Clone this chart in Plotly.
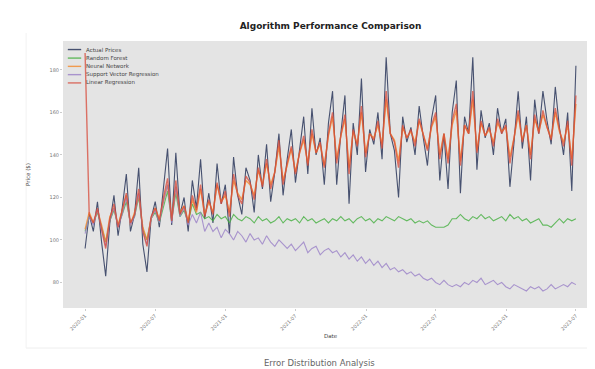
import pandas as pd
import plotly.graph_objects as go

start_date = "2020-01-01"
end_date = "2023-07-01"
n_points = 120
tick_dates = ["2020-01-01", "2020-07-01", "2021-01-01", "2021-07-01",
              "2022-01-01", "2022-07-01", "2023-01-01", "2023-07-01"]
y_ticks = [80, 100, 120, 140, 160, 180]

actual = [96, 112, 104, 118, 99, 83, 108, 121, 102, 115,
          131, 104, 112, 134, 98, 85, 110, 118, 106, 126,
          143, 107, 141, 112, 120, 104, 128, 115, 138, 110,
          122, 108, 136, 117, 126, 103, 139, 121, 112, 134,
          128, 113, 140, 124, 145, 118, 132, 150, 121, 138,
          152, 127, 144, 158, 131, 162, 140, 148, 126, 155,
          170, 126, 150, 168, 117, 155, 140, 176, 132, 152,
          145, 160, 138, 186, 150, 142, 120, 158, 146, 153,
          140, 163, 148, 135, 157, 168, 128, 150, 124, 160,
          175, 122, 158, 150, 186, 133, 161, 148, 155, 140,
          162, 150, 157, 125, 146, 170, 143, 158, 128, 166,
          150, 170, 156, 145, 172, 153, 140, 160, 123, 182]

random_forest = [104, 111, 108, 113, 106, 99, 109, 114, 107, 112,
                 118, 108, 111, 120, 105, 100, 110, 113, 108, 116,
                 123, 109, 122, 111, 114, 108, 117, 112, 113, 110,
                 111, 109, 112, 110, 111, 108, 112, 110, 109, 111,
                 110, 108, 111, 109, 110, 108, 109, 111, 108, 110,
                 109, 110, 108, 111, 109, 110, 108, 109, 110, 108,
                 110, 109, 111, 109, 110, 108, 110, 111, 109, 110,
                 108, 110, 109, 111, 110, 109, 111, 110, 109, 110,
                 108, 109, 108, 109, 107, 106, 106, 106, 107, 110,
                 110, 112, 110, 109, 111, 110, 112, 110, 111, 109,
                 110, 111, 109, 112, 110, 111, 109, 110, 108, 109,
                 110, 107, 107, 106, 108, 110, 108, 110, 109, 110]

neural_network = [105, 113, 108, 114, 107, 99, 111, 115, 107, 114,
                  121, 107, 113, 121, 106, 100, 110, 115, 110, 118,
                  126, 110, 125, 113, 116, 109, 119, 113, 124, 112,
                  118, 113, 126, 118, 121, 113, 128, 122, 119, 128,
                  126, 121, 133, 126, 136, 126, 132, 144, 128, 135,
                  143, 132, 141, 147, 136, 150, 141, 145, 135, 149,
                  158, 138, 149, 157, 134, 151, 145, 160, 141, 150,
                  148, 154, 145, 166, 150, 147, 137, 153, 148, 151,
                  146, 156, 149, 143, 153, 158, 140, 150, 138, 154,
                  161, 137, 154, 150, 166, 142, 155, 149, 152, 146,
                  155, 151, 153, 139, 148, 159, 147, 154, 140, 157,
                  151, 159, 153, 148, 160, 151, 146, 154, 138, 164]

support_vector = [103, 111, 107, 114, 105, 97, 109, 115, 106, 112,
                  120, 107, 111, 122, 104, 98, 110, 114, 108, 118,
                  126, 108, 125, 111, 115, 107, 112, 108, 113, 104,
                  108, 104, 106, 101, 105, 103, 100, 104, 102, 99,
                  103, 100, 101, 98, 102, 99, 97, 100, 98, 96,
                  98, 95, 97, 99, 94, 96, 97, 93, 95, 96,
                  94, 95, 92, 94, 91, 93, 90, 92, 89, 91,
                  88, 90, 87, 89, 86, 87, 85, 86, 84, 85,
                  83, 84, 82, 81, 82, 80, 79, 81, 79, 78,
                  79, 78, 80, 79, 81, 80, 82, 79, 80, 81,
                  79, 80, 78, 77, 79, 78, 77, 76, 78, 77,
                  78, 76, 77, 79, 77, 78, 79, 78, 80, 79]

linear_regression = [188, 112, 108, 115, 105, 96, 110, 117, 106, 114,
                     122, 108, 112, 124, 104, 97, 111, 115, 109, 120,
                     129, 109, 128, 112, 116, 108, 121, 114, 126, 111,
                     119, 112, 127, 117, 123, 111, 131, 121, 117, 130,
                     127, 119, 134, 125, 138, 124, 132, 147, 126, 136,
                     144, 131, 141, 149, 135, 152, 141, 146, 134, 150,
                     160, 136, 149, 159, 131, 152, 144, 163, 139, 150,
                     147, 156, 143, 170, 150, 146, 134, 154, 148, 152,
                     144, 157, 149, 142, 154, 160, 138, 150, 136, 156,
                     164, 135, 154, 150, 170, 141, 156, 149, 153, 144,
                     157, 150, 154, 136, 148, 161, 146, 154, 138, 159,
                     150, 161, 153, 147, 162, 152, 144, 156, 135, 168]

dates = pd.date_range(start_date, end_date, periods=n_points)
span = dates[-1] - dates[0]
x_range = [dates[0] - span * 0.045, dates[-1] + span * 0.045]

series = [
    ("Actual Prices", actual, "#3f4a6a", 1.1, 0.95),
    ("Random Forest", random_forest, "#45b040", 1.1, 0.8),
    ("Neural Network", neural_network, "#f5892a", 1.4, 0.8),
    ("Support Vector Regression", support_vector, "#9a80c8", 1.1, 0.8),
    ("Linear Regression", linear_regression, "#d84a3a", 1.4, 0.75),
]

fig = go.Figure()
for name, vals, color, width, op in series:
    fig.add_trace(go.Scatter(x=dates, y=vals, mode="lines", name=name,
                             line=dict(color=color, width=width), opacity=op,
                             showlegend=False))

# compact legend drawn inside the plot area (top-left)
legend_shapes = []
legend_annots = []
leg_y = [0.968, 0.936, 0.905, 0.874, 0.843]
for (name, vals, color, width, op), ly in zip(series, leg_y):
    legend_shapes.append(dict(type="line", xref="paper", yref="paper",
                              x0=0.009, x1=0.034, y0=ly, y1=ly,
                              line=dict(color=color, width=1.4), opacity=op))
    legend_annots.append(dict(text=name, xref="paper", yref="paper", x=0.040, y=ly,
                              xanchor="left", yanchor="middle", showarrow=False,
                              font=dict(size=5.5, color="#444444")))

fig.update_layout(
    width=595, height=369,
    margin=dict(l=55, r=5, t=33, b=69),
    paper_bgcolor="white",
    plot_bgcolor="#e4e4e4",
    font=dict(family="DejaVu Sans", size=6, color="#555555"),
    title=dict(text="<b>Algorithm Performance Comparison</b>", xref="paper", x=0.5,
               xanchor="center", y=0.951, yanchor="middle",
               font=dict(size=9, color="#222222")),
    showlegend=False,
    xaxis=dict(range=x_range, tickvals=tick_dates, tickformat="%Y-%m", tickangle=-45,
               showgrid=False, zeroline=False, ticks="outside", ticklen=2,
               tickcolor="#cccccc", tickfont=dict(size=5, color="#777777"),
               title=dict(text="Date", font=dict(size=5.5, color="#444444"), standoff=3)),
    yaxis=dict(range=[68, 193.6], tickvals=y_ticks, showgrid=False, zeroline=False,
               ticks="outside", ticklen=2, tickcolor="#cccccc",
               tickfont=dict(size=5, color="#777777"),
               title=dict(text="Price ($)", font=dict(size=5.5, color="#444444"), standoff=18)),
    shapes=legend_shapes + [
        dict(type="line", xref="paper", yref="paper", x0=-0.069, x1=1.02, y0=-0.15, y1=-0.15,
             line=dict(color="#eeeeee", width=1)),
        dict(type="line", xref="paper", yref="paper", x0=-0.069, x1=-0.069, y0=-0.15, y1=1.03,
             line=dict(color="#f2f2f2", width=1)),
    ],
    annotations=legend_annots + [
        dict(text="Error Distribution Analysis", xref="paper", yref="paper",
             x=0.48, y=-0.205, xanchor="center", yanchor="middle", showarrow=False,
             font=dict(size=8.5, color="#666666")),
    ],
)

fig.write_html("out.html")
